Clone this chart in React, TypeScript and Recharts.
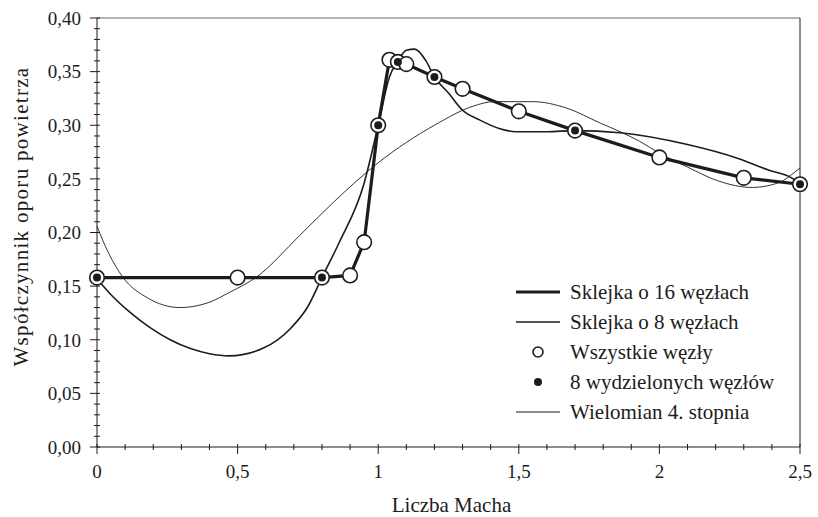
import { ComposedChart, Legend, Line, ReferenceLine, Scatter, XAxis, YAxis } from "recharts";

const FONT = "Liberation Serif";
const INK = "#1c1c1c";

// wszystkie 16 węzłów (sklejka o 16 węzłach przechodzi przez nie)
const nodeX = [0, 0.5, 0.8, 0.9, 0.95, 1.0, 1.04, 1.07, 1.1, 1.2, 1.3, 1.5, 1.7, 2.0, 2.3, 2.5];
const nodeY = [0.158, 0.158, 0.158, 0.16, 0.191, 0.3, 0.361, 0.359, 0.357, 0.345, 0.334, 0.313, 0.295, 0.27, 0.251, 0.245];

// wydzielone węzły
const selectedX = [0, 0.8, 1.0, 1.07, 1.2, 1.7, 2.5];
const selectedY = [0.158, 0.158, 0.3, 0.359, 0.345, 0.295, 0.245];

// sklejka o 8 węzłach
const spline8X = [0, 0.05, 0.12, 0.19, 0.26, 0.33, 0.4, 0.47, 0.59, 0.69, 0.75, 0.8, 0.86, 0.95, 1.0, 1.04, 1.07, 1.1, 1.13, 1.17, 1.2, 1.25, 1.3, 1.36, 1.43, 1.49, 1.6, 1.7, 1.86, 2.1, 2.28, 2.39, 2.47, 2.5];
const spline8Y = [0.157, 0.142, 0.125, 0.111, 0.1, 0.092, 0.087, 0.085, 0.092, 0.111, 0.131, 0.158, 0.19, 0.246, 0.3, 0.345, 0.36, 0.37, 0.371, 0.36, 0.345, 0.33, 0.314, 0.305, 0.297, 0.294, 0.294, 0.295, 0.293, 0.282, 0.269, 0.258, 0.251, 0.245];

// wielomian 4. stopnia
const polyX = [0, 0.02, 0.09, 0.18, 0.295, 0.4, 0.47, 0.57, 0.72, 0.84, 1.0, 1.2, 1.34, 1.41, 1.55, 1.67, 1.79, 1.86, 1.93, 2.0, 2.1, 2.21, 2.33, 2.43, 2.47, 2.5];
const polyY = [0.206, 0.193, 0.159, 0.139, 0.13, 0.135, 0.144, 0.159, 0.197, 0.228, 0.265, 0.3, 0.318, 0.322, 0.322, 0.316, 0.302, 0.294, 0.285, 0.274, 0.261, 0.248, 0.242, 0.247, 0.254, 0.26];

const yTicks = [0, 0.01, 0.02, 0.03, 0.04, 0.05, 0.06, 0.07, 0.08, 0.09, 0.1, 0.11, 0.12, 0.13, 0.14, 0.15, 0.16, 0.17, 0.18, 0.19, 0.2, 0.21, 0.22, 0.23, 0.24, 0.25, 0.26, 0.27, 0.28, 0.29, 0.3, 0.31, 0.32, 0.33, 0.34, 0.35, 0.36, 0.37, 0.38, 0.39, 0.4];
const yMajorTicks = [0, 0.05, 0.1, 0.15, 0.2, 0.25, 0.3, 0.35, 0.4];
const xTicks = [0, 0.1, 0.2, 0.3, 0.4, 0.5, 0.6, 0.7, 0.8, 0.9, 1, 1.1, 1.2, 1.3, 1.4, 1.5, 1.6, 1.7, 1.8, 1.9, 2, 2.1, 2.2, 2.3, 2.4, 2.5];
const xMajorTicks = [0, 0.5, 1, 1.5, 2, 2.5];

const xTitle = "Liczba Macha";
const yTitle = "Współczynnik oporu powietrza";
const legendLabels = [
  "Sklejka o 16 węzłach",
  "Sklejka o 8 węzłach",
  "Wszystkie węzły",
  "8 wydzielonych węzłów",
  "Wielomian 4. stopnia",
];

const toPoints = (xs: number[], ys: number[]) => xs.map((x, i) => ({ x, y: ys[i] }));

const nodes = toPoints(nodeX, nodeY);
const selected = toPoints(selectedX, selectedY);
const spline8 = toPoints(spline8X, spline8Y);
const poly = toPoints(polyX, polyY);

const isMajor = (v: number, list: number[]) => list.some((t) => Math.abs(t - v) < 1e-6);
const fmtY = (v: number) => v.toFixed(2).replace(".", ",");
const fmtX = (v: number) => String(v).replace(".", ",");

function YTick({ x, y, payload }: any) {
  const major = isMajor(payload.value, yMajorTicks);
  return (
    <g>
      <line x1={x - (major ? 7 : 3)} x2={x + 3} y1={y} y2={y} stroke={INK} />
      {major && (
        <text x={x - 16} y={y} dy="0.36em" textAnchor="end" fontSize={19} fontFamily={FONT} fill={INK}>
          {fmtY(payload.value)}
        </text>
      )}
    </g>
  );
}

function XTick({ x, y, payload }: any) {
  const major = isMajor(payload.value, xMajorTicks);
  return (
    <g>
      <line x1={x} x2={x} y1={y - 3} y2={y + (major ? 7 : 3)} stroke={INK} />
      {major && (
        <text x={x} y={y + 24} dy="0.36em" textAnchor="middle" fontSize={19} fontFamily={FONT} fill={INK}>
          {fmtX(payload.value)}
        </text>
      )}
    </g>
  );
}

function YTitle({ viewBox }: any) {
  const cx = 21;
  const cy = viewBox.y + viewBox.height / 2 - 16;
  return (
    <text
      x={cx}
      y={cy}
      dy="0.35em"
      transform={`rotate(-90 ${cx} ${cy})`}
      textAnchor="middle"
      fontSize={21}
      letterSpacing={1.3}
      fontFamily={FONT}
      fill={INK}
    >
      {yTitle}
    </text>
  );
}

function XTitle({ viewBox }: any) {
  const cx = viewBox.x + viewBox.width / 2 + 3;
  return (
    <text x={cx} y={505} dy="0.35em" textAnchor="middle" fontSize={21} fontFamily={FONT} fill={INK}>
      {xTitle}
    </text>
  );
}

const OpenNode = (p: any) => <circle cx={p.cx} cy={p.cy} r={7.3} fill="#fff" stroke={INK} strokeWidth={1.6} />;
const FilledNode = (p: any) => <circle cx={p.cx} cy={p.cy} r={4} fill={INK} />;

function LegendBox() {
  const samples = [
    <line x1={2} x2={46} y1={15} y2={15} stroke={INK} strokeWidth={3.2} />,
    <line x1={2} x2={46} y1={15} y2={15} stroke={INK} strokeWidth={1.5} />,
    <circle cx={24} cy={15} r={5} fill="#fff" stroke={INK} strokeWidth={1.6} />,
    <circle cx={24} cy={15} r={4} fill={INK} />,
    <line x1={2} x2={46} y1={15} y2={15} stroke={INK} strokeWidth={1} />,
  ];
  return (
    <div style={{ fontFamily: FONT, fontSize: 21, color: INK }}>
      {legendLabels.map((label, i) => (
        <div key={label} style={{ display: "flex", alignItems: "center", height: 30 }}>
          <svg width={52} height={30} style={{ flex: "none" }}>
            {samples[i]}
          </svg>
          <span style={{ marginLeft: 4, whiteSpace: "nowrap" }}>{label}</span>
        </div>
      ))}
    </div>
  );
}

export default function App() {
  return (
    <div style={{ position: "absolute", left: 0, top: 0, width: 818, height: 517, background: "#fff" }}>
      <ComposedChart width={818} height={517} margin={{ top: 18, right: 18, bottom: 0, left: 0 }}>
        <XAxis
          dataKey="x"
          type="number"
          domain={[0, 2.5]}
          ticks={xTicks}
          interval={0}
          tickSize={0}
          tickMargin={0}
          tickLine={false}
          tick={<XTick />}
          height={70}
          axisLine={{ stroke: INK }}
          label={<XTitle />}
        />
        <YAxis
          type="number"
          domain={[0, 0.4]}
          ticks={yTicks}
          interval={0}
          tickSize={0}
          tickMargin={0}
          tickLine={false}
          tick={<YTick />}
          width={97}
          axisLine={{ stroke: INK }}
          label={<YTitle />}
        />
        <ReferenceLine y={0.4} stroke="#9a9a9a" strokeWidth={1.5} />
        <ReferenceLine x={2.5} stroke={INK} />
        <Line data={poly} dataKey="y" type="monotone" stroke={INK} strokeWidth={0.9} dot={false} isAnimationActive={false} />
        <Line data={spline8} dataKey="y" type="monotone" stroke={INK} strokeWidth={1.6} dot={false} isAnimationActive={false} />
        <Line data={nodes} dataKey="y" type="linear" stroke={INK} strokeWidth={3.2} dot={false} isAnimationActive={false} />
        <Scatter data={nodes} dataKey="y" shape={OpenNode} isAnimationActive={false} />
        <Scatter data={selected} dataKey="y" shape={FilledNode} isAnimationActive={false} />
        <Legend
          layout="vertical"
          align="center"
          verticalAlign="middle"
          content={<LegendBox />}
          wrapperStyle={{ position: "absolute", left: 514, top: 277, width: 295 }}
        />
      </ComposedChart>
    </div>
  );
}
